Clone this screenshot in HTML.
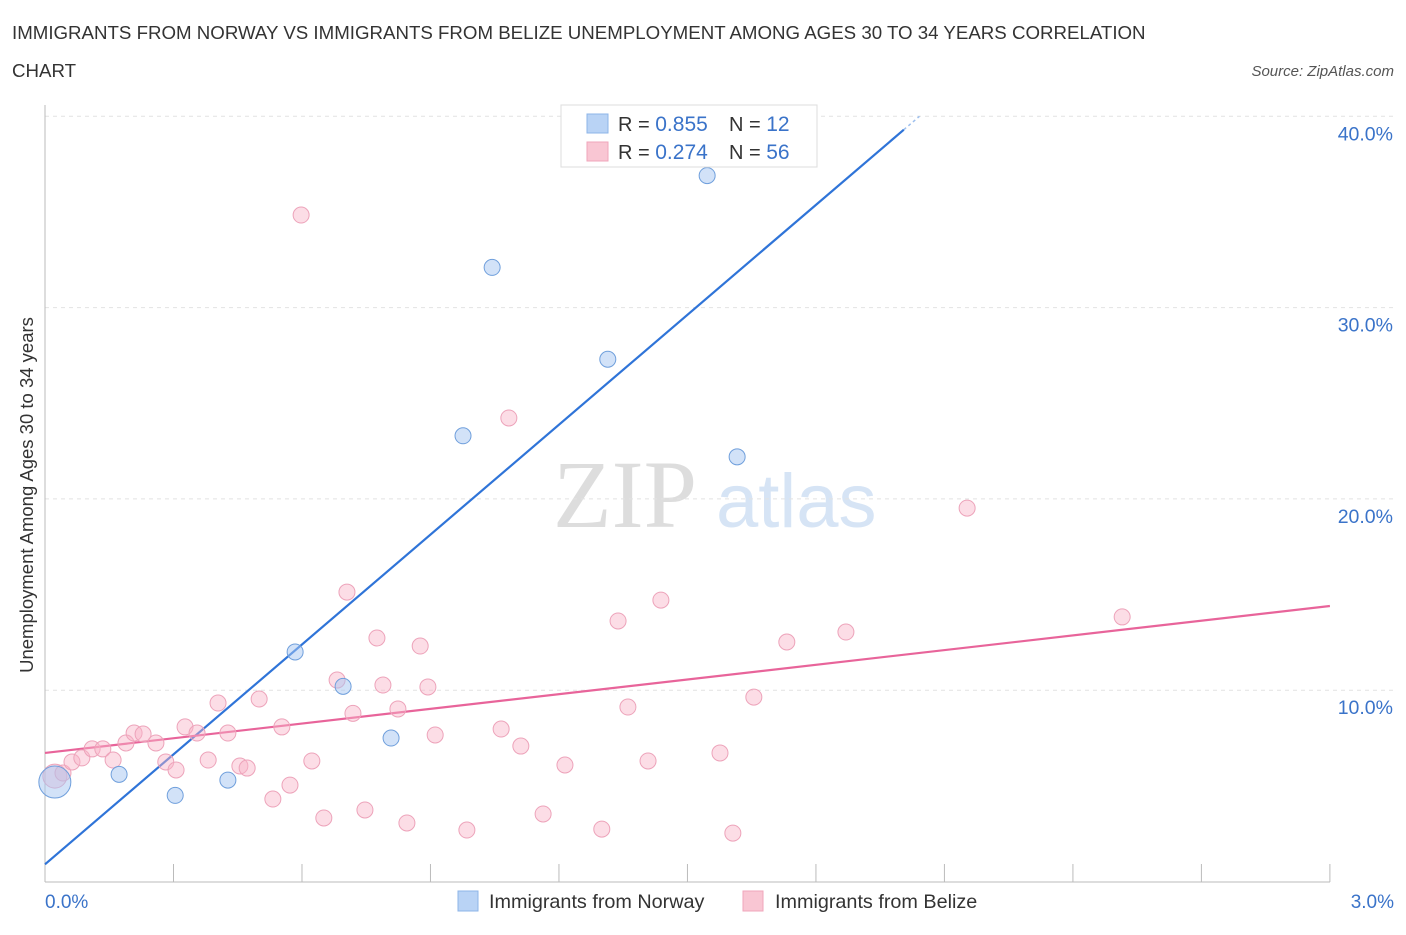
<!DOCTYPE html>
<html><head><meta charset="utf-8"><style>
body{margin:0;background:#fff;font-family:"Liberation Sans",sans-serif;}
</style></head><body>
<svg id="chart" width="1406" height="930" xmlns="http://www.w3.org/2000/svg" font-family="Liberation Sans, sans-serif">
<text x="12" y="39" font-size="18.7" fill="#333">IMMIGRANTS FROM NORWAY VS IMMIGRANTS FROM BELIZE UNEMPLOYMENT AMONG AGES 30 TO 34 YEARS CORRELATION</text>
<text x="12" y="77" font-size="18.7" fill="#333">CHART</text>
<text x="1394" y="76" font-size="15" fill="#555" font-style="italic" text-anchor="end">Source: ZipAtlas.com</text>
<text x="553" y="527" font-size="96" fill="#ddd" font-family="Liberation Serif, serif">ZIP</text>
<text x="716" y="527" font-size="76" fill="#d6e4f5">atlas</text>
<text transform="translate(33,495) rotate(-90)" font-size="18.5" fill="#333" text-anchor="middle">Unemployment Among Ages 30 to 34 years</text>
<g id="grid"></g><g id="ticks"></g><g id="lines"></g><g id="pts"></g>
<g>
<rect x="561" y="105" width="256" height="62" fill="#fff" stroke="#ddd"/>
<rect x="587" y="114" width="21" height="19" fill="#b9d3f5" stroke="#8db4e8"/>
<rect x="587" y="142" width="21" height="19" fill="#f9c6d3" stroke="#f0a6bb"/>
<text x="618" y="131" font-size="20" fill="#333">R = <tspan fill="#3a73c9" font-size="21">0.855</tspan></text>
<text x="729" y="131" font-size="20" fill="#333">N =  <tspan fill="#3a73c9" font-size="21">12</tspan></text>
<text x="618" y="159" font-size="20" fill="#333">R = <tspan fill="#3a73c9" font-size="21"> 0.274</tspan></text>
<text x="729" y="159" font-size="20" fill="#333">N = <tspan fill="#3a73c9" font-size="21">56</tspan></text>
</g>
<g>
<rect x="458" y="891" width="20" height="20" fill="#b9d3f5" stroke="#8db4e8"/>
<text x="489" y="908" font-size="19.8" fill="#333">Immigrants from Norway</text>
<rect x="743" y="891" width="20" height="20" fill="#f9c6d3" stroke="#f0a6bb"/>
<text x="775" y="908" font-size="19.8" fill="#333">Immigrants from Belize</text>
</g>
<text x="45" y="908" font-size="19" fill="#3a73c9">0.0%</text>
<text x="1394" y="908" font-size="19" fill="#3a73c9" text-anchor="end">3.0%</text>
</svg>
<script>
const yTicks=[10,20,30,40];
const yTickLabels=["10.0%","20.0%","30.0%","40.0%"];
const norwayX=[0.023,0.173,0.304,0.427,0.584,0.696,0.808,0.976,1.044,1.314,1.546,1.616];
const norwayY=[5.2,5.6,4.5,5.3,12.0,10.2,7.5,23.3,32.1,27.3,36.9,22.2];
const belizeX=[0.023,0.042,0.063,0.086,0.110,0.135,0.159,0.189,0.208,0.229,0.259,0.282,0.306,0.327,0.355,0.381,0.404,0.427,0.455,0.472,0.500,0.532,0.553,0.572,0.598,0.623,0.651,0.682,0.705,0.719,0.747,0.775,0.789,0.824,0.845,0.876,0.894,0.911,0.985,1.065,1.083,1.111,1.163,1.214,1.300,1.338,1.361,1.408,1.438,1.576,1.606,1.655,1.732,1.870,2.153,2.515];
const belizeY=[5.51,5.67,6.25,6.46,6.93,6.93,6.35,7.24,7.76,7.71,7.24,6.25,5.83,8.08,7.76,6.35,9.33,7.76,6.04,5.93,9.54,4.31,8.08,5.04,34.84,6.30,3.32,10.53,15.13,8.79,3.74,12.73,10.27,9.02,3.06,12.31,10.17,7.66,2.69,7.97,24.23,7.08,3.53,6.09,2.74,13.62,9.12,6.30,14.71,6.72,2.53,9.64,12.52,13.04,19.52,13.83];
const norwayLine=[0.9,19.15];
const belizeLine=[6.72,2.56];
const X=v=>45+v*428.3, Y=v=>881.5-v*19.13;
const NS="http://www.w3.org/2000/svg";
function mk(p,t,a){const e=document.createElementNS(NS,t);for(const k in a)e.setAttribute(k,a[k]);document.getElementById(p).appendChild(e);return e;}
yTicks.forEach((t,i)=>{
 const l=mk('grid','line',{x1:45,x2:1394,y1:Y(t),y2:Y(t),stroke:'#e2e2e2','stroke-dasharray':'4 4'});
 
 
 const tx=mk('grid','text',{x:1393,y:Y(t)+24,'font-size':19.5,fill:'#3a73c9','text-anchor':'end'});
 tx.textContent=yTickLabels[i];
 
 
});
const ax=mk('ticks','line',{x1:45,x2:1330,y1:882,y2:882,stroke:'#bbb'});


const ay=mk('ticks','line',{x1:45,x2:45,y1:105,y2:882,stroke:'#bbb'});


for(let i=0;i<=10;i++){const t=mk('ticks','line',{x1:X(i*0.3),x2:X(i*0.3),y1:864,y2:882,stroke:'#bbb'});
 
 }
const xEnd=(40-norwayLine[0])/norwayLine[1];
const xSolid=(39.3-norwayLine[0])/norwayLine[1];
const l1=mk('lines','line',{x1:X(0),y1:Y(norwayLine[0]),x2:X(xSolid),y2:Y(39.3),stroke:'#2f74d8','stroke-width':2.2});


const l1d=mk('lines','line',{x1:X(xSolid),y1:Y(39.3),x2:X(xEnd),y2:Y(40),stroke:'#9dbfee','stroke-width':1.5,'stroke-dasharray':'3 3'});


const l2=mk('lines','line',{x1:X(0),y1:Y(belizeLine[0]),x2:X(3),y2:Y(belizeLine[0]+3*belizeLine[1]),stroke:'#e8649a','stroke-width':2.2});


belizeX.forEach((x,i)=>{const c=mk('pts','circle',{cx:X(x),cy:Y(belizeY[i]),r:i==0?12:8,fill:'rgba(248,180,200,0.45)',stroke:'#eda3ba'});
 
 });
norwayX.forEach((x,i)=>{const c=mk('pts','circle',{cx:X(x),cy:Y(norwayY[i]),r:i==0?16:8,fill:'rgba(165,198,242,0.5)',stroke:'#6f9fdc'});
 
 });
</script>
</body></html>
